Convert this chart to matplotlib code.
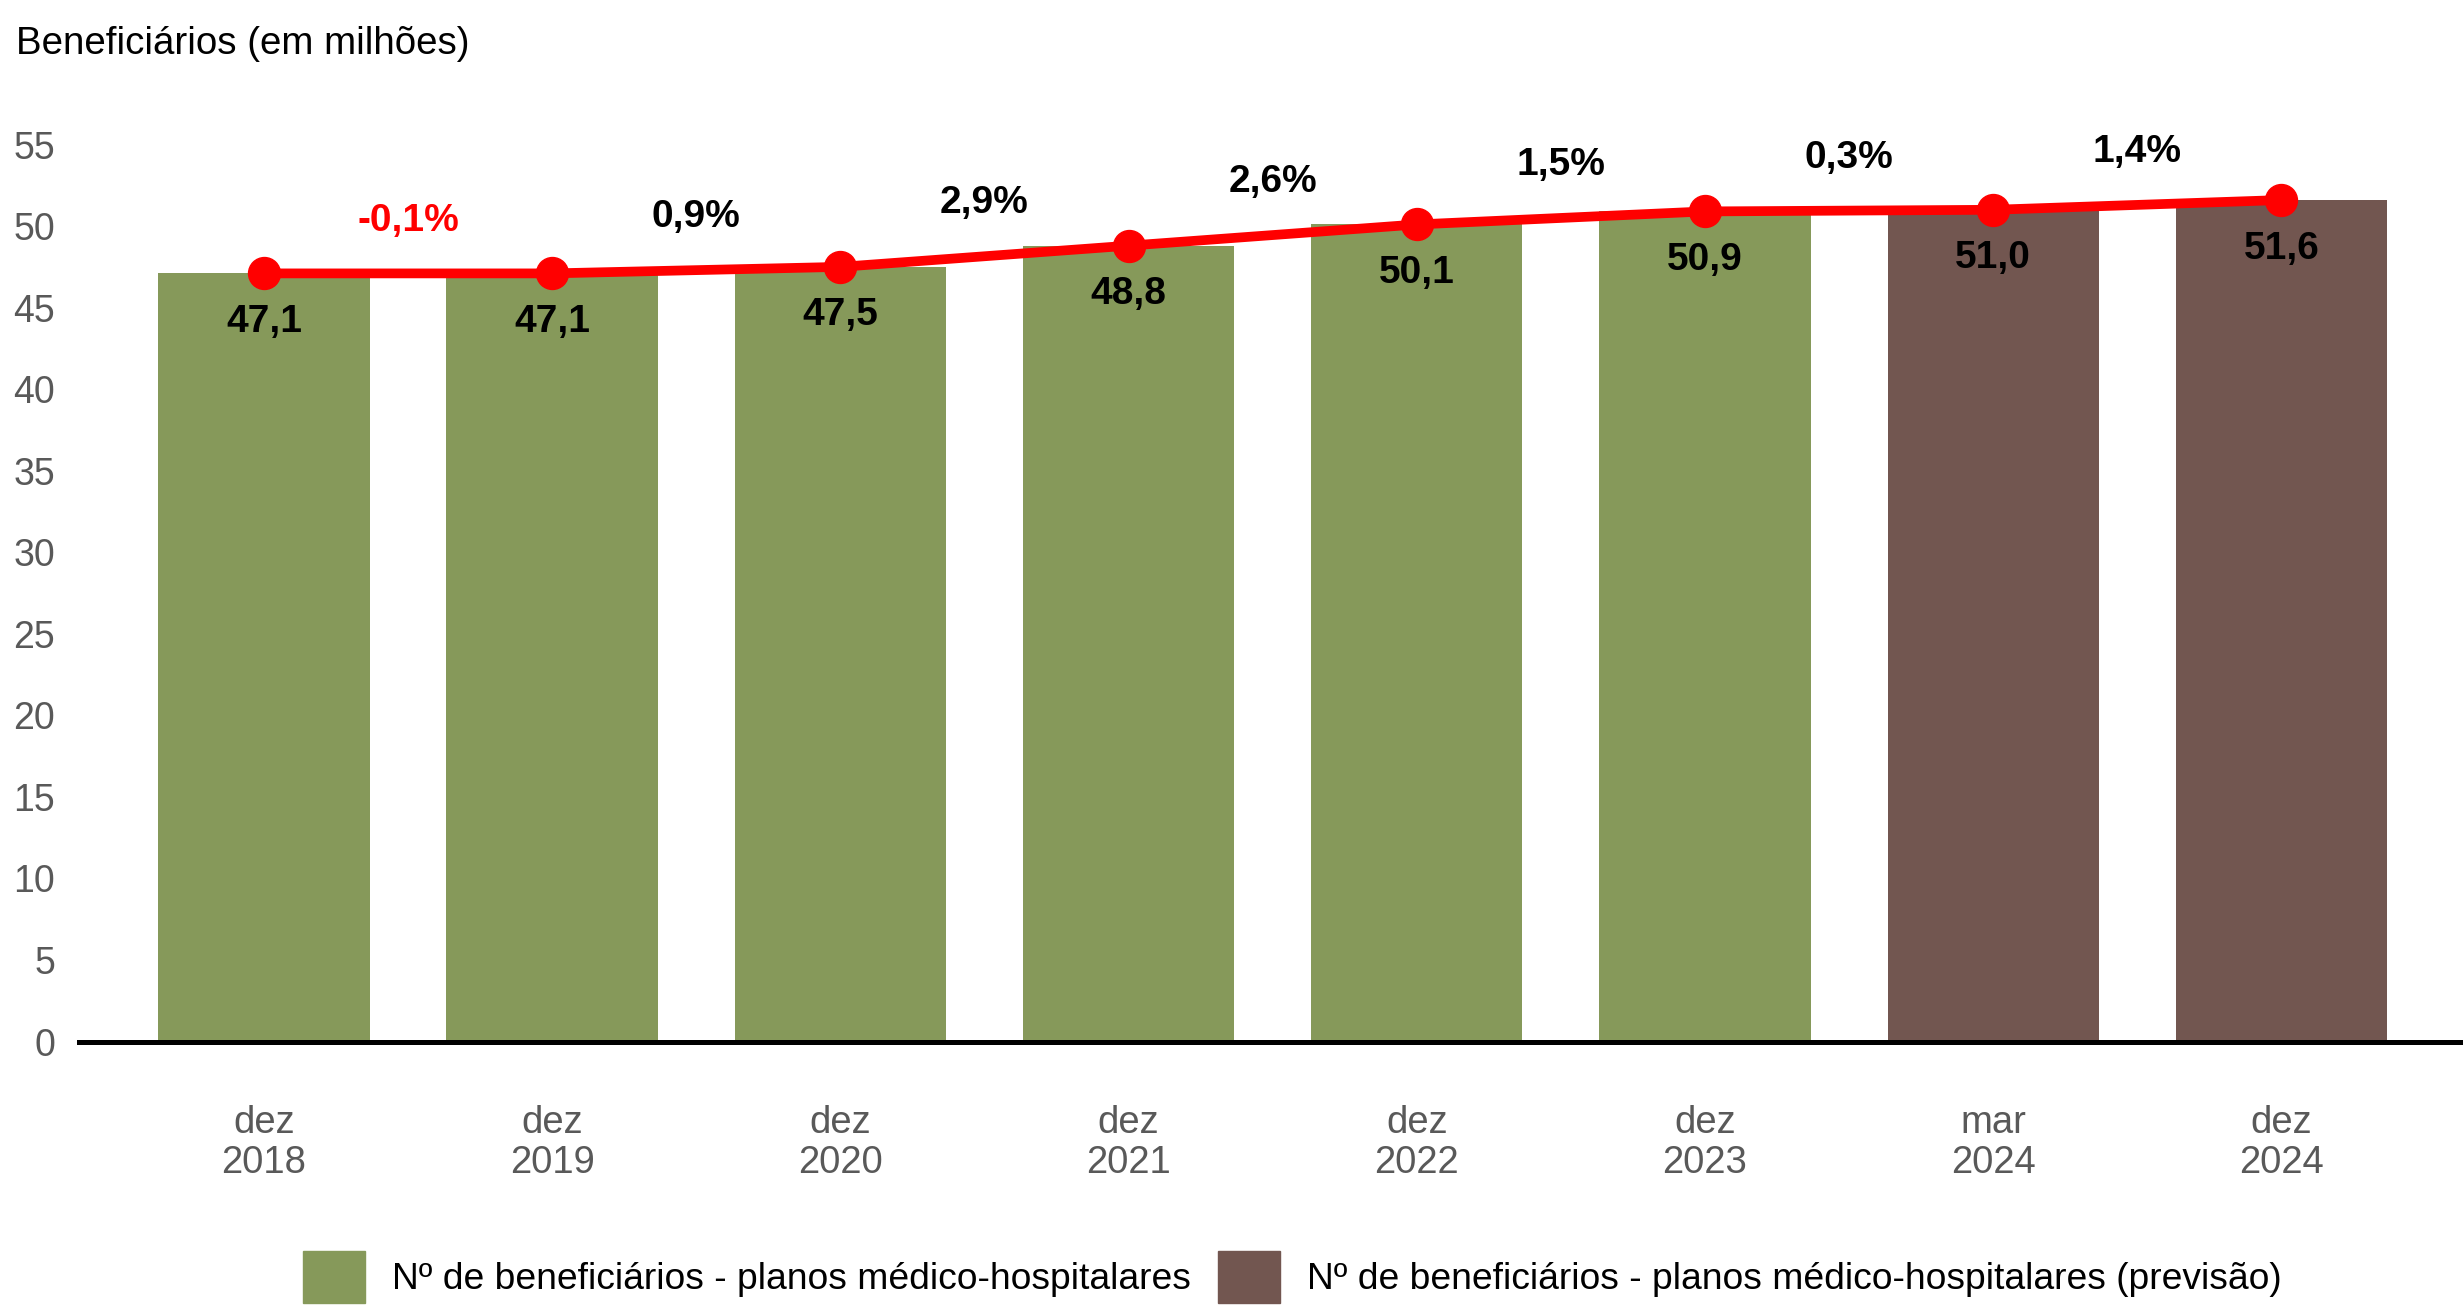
import numpy as np
import matplotlib
matplotlib.use('Agg')
import matplotlib.pyplot as plt
from matplotlib.patches import Patch

plt.rcParams['font.family'] = ['Liberation Sans', 'DejaVu Sans']

# beneficiarios de planos medico-hospitalares (milhoes)
periodos = ['dez\n2018', 'dez\n2019', 'dez\n2020', 'dez\n2021',
            'dez\n2022', 'dez\n2023', 'mar\n2024', 'dez\n2024']
beneficiarios = [47.1, 47.1, 47.5, 48.8, 50.1, 50.9, 51.0, 51.6]
previsao = [False, False, False, False, False, False, True, True]
variacao = ['-0,1%', '0,9%', '2,9%', '2,6%', '1,5%', '0,3%', '1,4%']

verde = '#86995A'
marrom = '#725650'
vermelho = '#FF0000'
cinza = '#595959'

fig = plt.figure(figsize=(24.63, 13.07), dpi=100)
ax = fig.add_axes([0.0319, 0.2031, 0.9681, 0.6863])

x = np.arange(len(periodos))
cores = [marrom if p else verde for p in previsao]
ax.bar(x, beneficiarios, width=0.733, color=cores, zorder=2)

ax.plot(x, beneficiarios, color=vermelho, lw=7, marker='o', ms=23,
        zorder=4, clip_on=False)

# rotulos de valor abaixo dos pontos
for xi, v in zip(x, beneficiarios):
    txt = f'{v:.1f}'.replace('.', ',')
    ax.annotate(txt, (xi, v), xytext=(0, -35), textcoords='offset points',
                ha='center', va='center', fontsize=28, fontweight='bold',
                color='black', zorder=5)

# variacao entre periodos, acima da linha
for i, lab in enumerate(variacao):
    xm = (x[i] + x[i + 1]) / 2
    ym = (beneficiarios[i] + beneficiarios[i + 1]) / 2
    cor = vermelho if lab.startswith('-') else 'black'
    ax.annotate(lab, (xm, ym), xytext=(0, 38), textcoords='offset points',
                ha='center', va='center', fontsize=28, fontweight='bold',
                color=cor, zorder=5, annotation_clip=False)

ax.set_xlim(-0.643, 7.63)
ax.set_ylim(0, 55)
ax.set_yticks(np.arange(0, 56, 5))
ax.set_xticks(x)
ax.set_xticklabels(periodos, linespacing=1.12)
ax.tick_params(axis='y', length=0, pad=17, labelsize=27, labelcolor=cinza)
ax.tick_params(axis='x', length=0, pad=46, labelsize=27.5, labelcolor=cinza)

for lado in ['top', 'right', 'left']:
    ax.spines[lado].set_visible(False)
ax.spines['bottom'].set_linewidth(3.6)
ax.spines['bottom'].set_color('black')
ax.spines['bottom'].set_zorder(3)

fig.text(0.0064, 0.966, 'Beneficiários (em milhões)', fontsize=27.7,
         ha='left', va='center', color='black')

handles = [Patch(color=verde, label='Nº de beneficiários - planos médico-hospitalares'),
           Patch(color=marrom, label='Nº de beneficiários - planos médico-hospitalares (previsão)')]
fig.legend(handles=handles, loc='center', bbox_to_anchor=(0.5246, 0.023),
           ncol=2, frameon=False, fontsize=26.8, handlelength=1.68,
           handleheight=1.75, handletextpad=0.72, columnspacing=0.72,
           borderpad=0)

fig.savefig('out.png', dpi=100)
